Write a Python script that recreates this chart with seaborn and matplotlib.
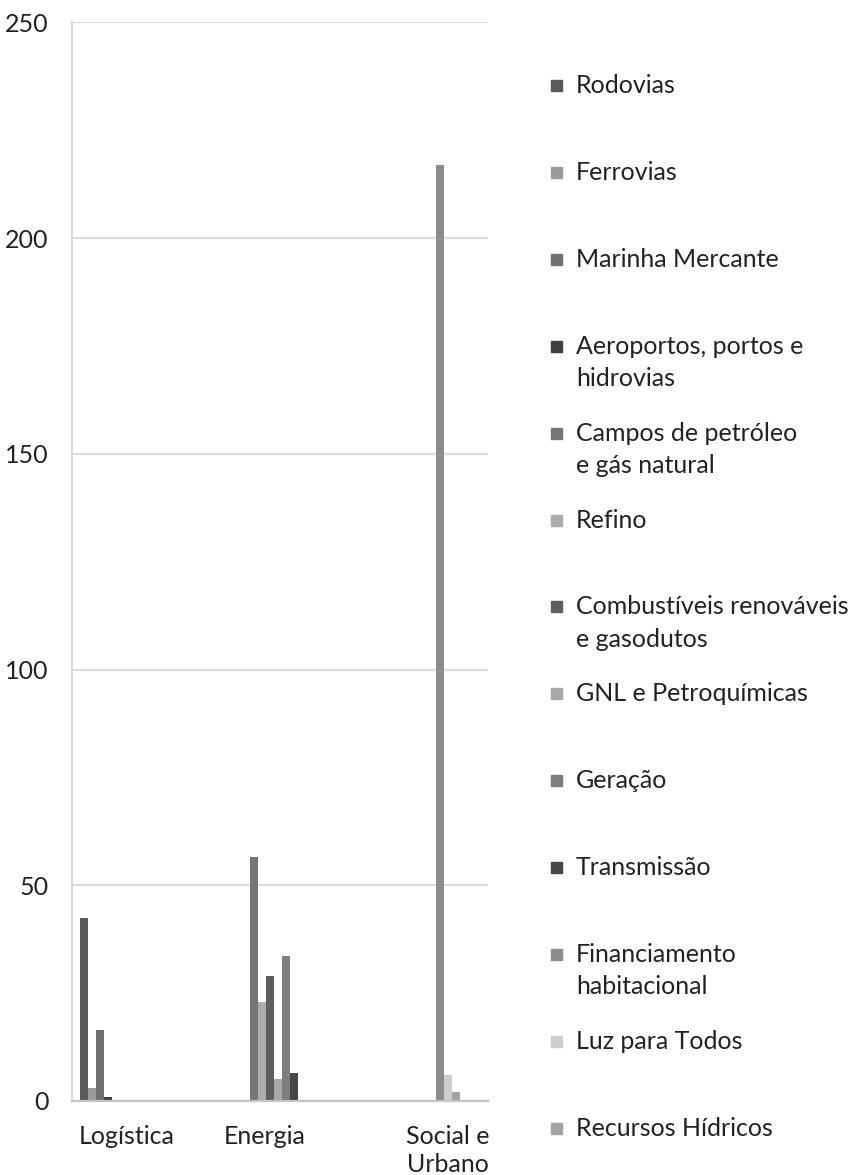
import pandas as pd
import matplotlib
matplotlib.use('Agg')
import matplotlib.pyplot as plt
import seaborn as sns

# dados
categorias = ['Logística', 'Energia', 'Social e\nUrbano']
series = ['Rodovias', 'Ferrovias', 'Marinha Mercante', 'Aeroportos, portos e\nhidrovias',
          'Campos de petróleo\ne gás natural', 'Refino', 'Combustíveis renováveis\ne gasodutos',
          'GNL e Petroquímicas', 'Geração', 'Transmissão', 'Financiamento\nhabitacional',
          'Luz para Todos', 'Recursos Hídricos']
logistica = [42.5, 3, 16.5, 1, 0, 0, 0, 0, 0, 0, 0, 0, 0]
energia = [0, 0, 0, 0, 56.6, 23, 29, 5, 33.5, 6.5, 0, 0, 0]
social = [0, 0, 0, 0, 0, 0, 0, 0, 0, 0, 217, 6, 2]
cores = ['#595959', '#9a9a9a', '#707070', '#3f3f3f', '#767676', '#acacac', '#5e5e5e',
         '#a8a8a8', '#7e7e7e', '#474747', '#8c8c8c', '#cdcdcd', '#a3a3a3']

linhas = []
for cat, vals in zip(categorias, [logistica, energia, social]):
    for s, v in zip(series, vals):
        linhas.append({'Categoria': cat, 'Serie': s, 'Valor': v})
df = pd.DataFrame(linhas)

sns.set_style('white')
plt.rcParams['font.family'] = ['Lato', 'DejaVu Sans']

fig = plt.figure(figsize=(8.54, 11.75), dpi=100)
ax = fig.add_axes([0.0843, 0.063, 0.4871, 0.918])

sns.barplot(data=df, x='Categoria', y='Valor', hue='Serie', hue_order=series,
            palette=cores, width=0.75, linewidth=0, saturation=1, ax=ax, legend=False)

ax.set_ylim(0, 250)
ax.set_xlim(-0.435, 2.58)
ax.set_yticks([0, 50, 100, 150, 200, 250])
ax.yaxis.grid(True, color='#dcdcdc', linewidth=1.6)
ax.set_axisbelow(True)
ax.set_xlabel('')
ax.set_ylabel('')
for lado in ['top', 'right']:
    ax.spines[lado].set_visible(False)
ax.spines['left'].set_color('#dcdcdc')
ax.spines['left'].set_linewidth(1.6)
ax.spines['bottom'].set_color('#c4c4c4')
ax.spines['bottom'].set_linewidth(1.6)
ax.tick_params(axis='both', length=0, colors='#222222')
ax.tick_params(axis='y', labelsize=18, pad=17)
ax.set_xticks([-0.04, 0.96, 2.29])
ax.set_xticklabels(categorias, fontsize=18, linespacing=1.3)
ax.tick_params(axis='x', pad=17)

# legenda manual (marcadores alinhados à primeira linha)
W, H = 854, 1175
for i, (s, c) in enumerate(zip(series, cores)):
    y = 86 + 86.9 * i
    fig.patches.append(plt.Rectangle((551 / W, 1 - (y + 5) / H), 11 / W, 11 / H,
                                     transform=fig.transFigure, color=c, figure=fig))
    fig.text(576 / W, 1 - (y - 12) / H, s, fontsize=18, color='#222222',
             va='top', ha='left', linespacing=1.5)

fig.savefig('out.png', dpi=100)
